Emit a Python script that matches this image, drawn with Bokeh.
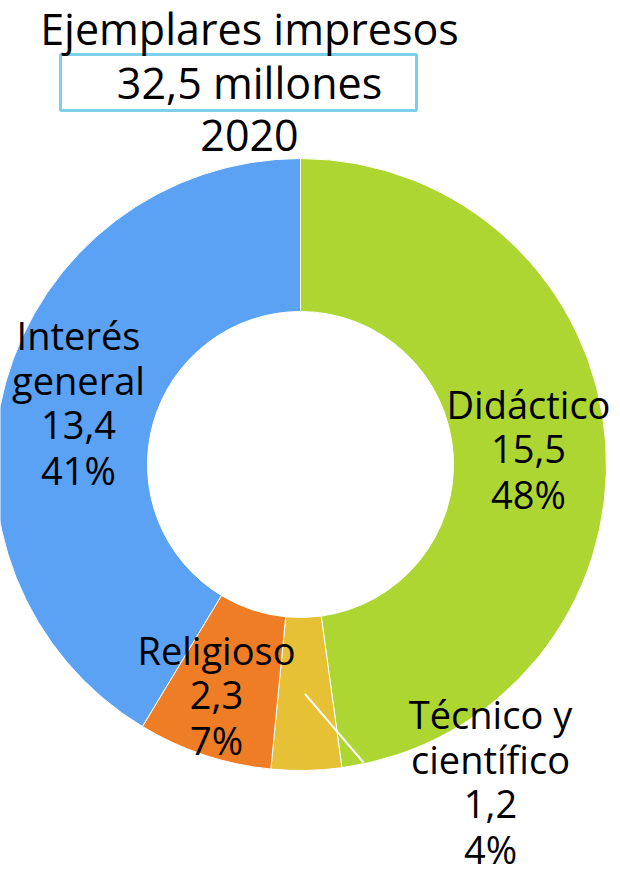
import math
from bokeh.plotting import figure
from bokeh.models import Range1d, ColumnDataSource
from bokeh.embed import file_html
from bokeh.resources import INLINE
from bokeh.core.properties import value

# ---- data ----
categories = ["Didáctico", "Técnico y científico", "Religioso", "Interés general"]
category_lines = [["Didáctico"], ["Técnico y", "científico"], ["Religioso"], ["Interés", "general"]]
values = [15.5, 1.2, 2.3, 13.4]
value_labels = ["15,5", "1,2", "2,3", "13,4"]
percent_labels = ["48%", "4%", "7%", "41%"]
colors = ["#ADD633", "#E6C035", "#EE7D26", "#5BA1F4"]
title_lines = ["Ejemplares impresos", "32,5 millones", "2020"]

# ---- layout (screen pixel coordinates, y measured downward) ----
W, H = 620, 875
X0, Y0 = 0, 0
SCREEN_H = 875
FONT = "Open Sans"
TEXT_DY = -14  # compensates baseline placement of the renderer


def sy(y):
    return SCREEN_H - y


cx, cy = 300, sy(464)
r_in, r_out = 153, 306

total = sum(values)
starts, ends = [], []
cum = 0.0
for v in values:
    a0 = math.pi / 2 - 2 * math.pi * cum / total
    cum += v
    a1 = math.pi / 2 - 2 * math.pi * cum / total
    starts.append(a1)
    ends.append(a0)

src = ColumnDataSource(dict(cat=categories, val=values, start=starts, end=ends, color=colors))

p = figure(width=W, height=H, output_backend="svg", toolbar_location=None,
           x_range=Range1d(X0, X0 + W), y_range=Range1d(sy(Y0 + H), sy(Y0)),
           min_border=0)
p.axis.visible = False
p.grid.visible = False
p.outline_line_color = None
p.background_fill_color = "white"
p.border_fill_color = "white"

p.annular_wedge(x=cx, y=cy, inner_radius=r_in, outer_radius=r_out,
                start_angle="start", end_angle="end", direction="anticlock",
                fill_color="color", line_color="white", line_width=1, source=src)

# leader line for the small slice
mid = (starts[1] + ends[1]) / 2
rm = (r_in + r_out) / 2
p.segment(x0=[cx + rm * math.cos(mid)], y0=[cy + rm * math.sin(mid)],
          x1=[363], y1=[sy(762)], line_color="white", line_width=2)

# slice labels
anchors = [(528, 417), (490, 727), (216, 663), (78, 348)]
LS = 45
tx, ty, tt = [], [], []
for i in range(len(values)):
    lines = category_lines[i] + [value_labels[i], percent_labels[i]]
    ax, ay = anchors[i]
    for j, t in enumerate(lines):
        tx.append(ax)
        ty.append(sy(ay + j * LS + TEXT_DY))
        tt.append(t)
p.text(x=tx, y=ty, text=tt, text_align="center", text_baseline="alphabetic",
       text_font=value(FONT), text_font_size="38px", text_color="black")

# title
p.quad(left=[60], right=[416], top=[sy(54)], bottom=[sy(110)],
       fill_color=None, line_color="#7ECFEA", line_width=3)
p.text(x=[249, 249, 249], y=[sy(42 + TEXT_DY), sy(96 + TEXT_DY), sy(149 + TEXT_DY)],
       text=title_lines, text_align="center", text_baseline="alphabetic",
       text_font=value(FONT), text_font_size="43px", text_color="black")

open("out.html", "w").write(file_html(p, INLINE))
